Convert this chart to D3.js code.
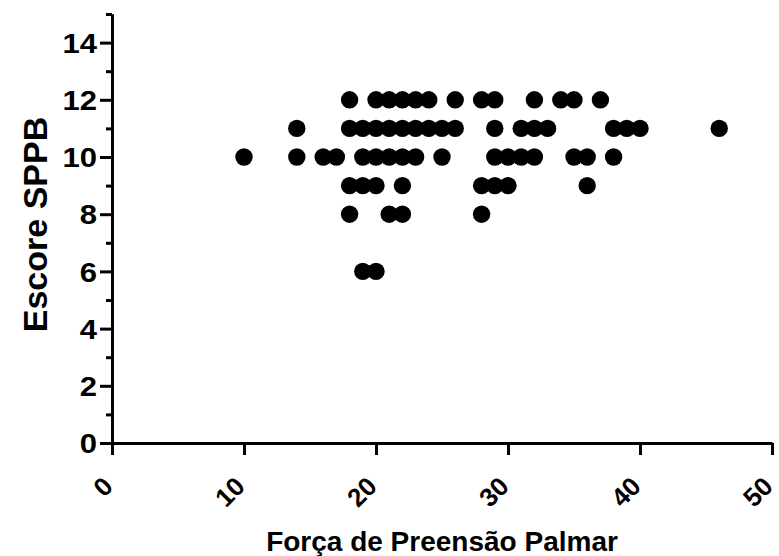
<!DOCTYPE html>
<html lang="pt">
  <head>
    <meta charset="UTF-8" />
    <title>Escore SPPB x Força de Preensão Palmar</title>
    <style>
      body {
        margin: 0;
        background: #fff;
      }
      #viz text {
        font-family: "Liberation Sans", Arial, sans-serif;
        font-weight: bold;
        fill: #000;
      }
    </style>
  </head>
  <body>
    <div id="viz"></div>
    <script src="https://cdnjs.cloudflare.com/ajax/libs/d3/7.8.5/d3.min.js"></script>
    <script>
      // valores (kg, escore)
      const forca = [
        18, 20, 21, 22, 23, 24, 26, 28, 29, 32, 34, 35, 37,
        14, 18, 19, 20, 21, 22, 23, 24, 25, 26, 29, 31, 32, 33, 38, 39, 40, 46,
        10, 14, 16, 17, 19, 20, 21, 22, 23, 25, 29, 30, 31, 32, 35, 36, 38,
        18, 19, 20, 22, 28, 29, 30, 36,
        18, 21, 22, 28,
        19, 20
      ];
      const escore = [
        12, 12, 12, 12, 12, 12, 12, 12, 12, 12, 12, 12, 12,
        11, 11, 11, 11, 11, 11, 11, 11, 11, 11, 11, 11, 11, 11, 11, 11, 11, 11,
        10, 10, 10, 10, 10, 10, 10, 10, 10, 10, 10, 10, 10, 10, 10, 10, 10,
        9, 9, 9, 9, 9, 9, 9, 9,
        8, 8, 8, 8,
        6, 6
      ];
      const xTicks = [0, 10, 20, 30, 40, 50];
      const yTicks = [0, 2, 4, 6, 8, 10, 12, 14];
      const yMinorTicks = [1, 3, 5, 7, 9, 11, 13, 15];

      let margin = { top: 14, right: 7, bottom: 113, left: 112 },
          width = 779,
          height = 556,
          widthr = width - margin.left - margin.right,
          heightr = height - margin.top - margin.bottom;

      let svg = d3.select("#viz")
        .append("svg")
        .attr("width", width)
        .attr("height", height)
        .append("g")
        .attr("transform", `translate(${margin.left}, ${margin.top})`);

      let x = d3.scaleLinear()
        .domain([0, 50])
        .range([0, widthr]);

      let y = d3.scaleLinear()
        .domain([0, 15])
        .range([heightr, 0]);

      let data = forca.map((f, i) => ({ forca: f, escore: escore[i] }));

      // pontos
      svg.selectAll(".dot")
        .data(data)
        .join("circle")
        .attr("class", "dot")
        .attr("cx", d => x(d.forca))
        .attr("cy", d => y(d.escore))
        .attr("r", 8.7)
        .style("fill", "#000");

      // eixo y
      svg.append("g")
        .attr("class", "y-minor")
        .call(d3.axisLeft(y).tickValues(yMinorTicks).tickSize(6).tickSizeOuter(0).tickFormat(""));

      let yAxis = svg.append("g")
        .attr("class", "y-axis")
        .call(d3.axisLeft(y).tickValues(yTicks).tickSize(12).tickSizeOuter(0));

      // os números do original são mais largos que a Arial
      yAxis.selectAll("text")
        .style("font-size", "27px")
        .attr("x", 0)
        .attr("dy", "0.36em")
        .attr("transform", "translate(-15, 0) scale(1.15, 1)");

      // eixo x
      let xAxis = svg.append("g")
        .attr("class", "x-axis")
        .attr("transform", `translate(0, ${heightr})`)
        .call(d3.axisBottom(x).tickValues(xTicks).tickSize(12).tickSizeOuter(0));

      xAxis.selectAll("text")
        .style("font-size", "26px")
        .attr("text-anchor", "end")
        .attr("x", 0)
        .attr("y", 0)
        .attr("dy", 0)
        .attr("transform", "translate(2, 45) rotate(-45)");

      svg.selectAll(".domain, .tick line")
        .style("stroke", "#000")
        .style("stroke-width", 3);

      // títulos
      svg.append("text")
        .attr("x", widthr / 2)
        .attr("y", heightr + 108)
        .attr("text-anchor", "middle")
        .style("font-size", "28px")
        .text("Força de Preensão Palmar");

      svg.append("text")
        .attr("transform", `translate(${-65}, ${heightr / 2 - 4}) rotate(-90)`)
        .attr("text-anchor", "middle")
        .style("font-size", "34px")
        .text("Escore SPPB");
    </script>
  </body>
</html>
